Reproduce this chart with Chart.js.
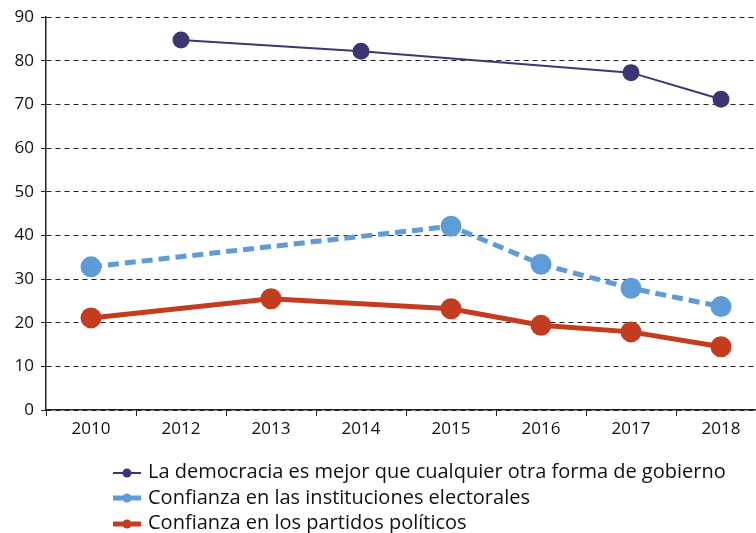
<!DOCTYPE html>
<html>
<head>
<meta charset="utf-8">
<script src="https://cdn.jsdelivr.net/npm/chart.js@4"></script>
<style>
  html, body { margin: 0; padding: 0; background: #fff; overflow: hidden; }
  #wrap { position: relative; width: 756px; height: 533px; overflow: hidden; }
  #box { position: absolute; left: 0; top: 0; width: 779px; height: 447px; }
  #legend { position: absolute; left: 113px; top: 458px; font-family: "Open Sans", sans-serif; font-size: 20px; color: #111; }
  .item { height: 25.5px; line-height: 25.5px; white-space: nowrap; }
  .sym { display: inline-block; vertical-align: middle; width: 28px; height: 12px; margin-right: 7px; }
</style>
</head>
<body>
<div id="wrap">
  <div id="box"><canvas id="chart"></canvas></div>
  <div id="legend"></div>
</div>
<script>
var years = ["2010", "2012", "2013", "2014", "2015", "2016", "2017", "2018"];
var democracia = [null, 84.8, null, 82.2, null, null, 77.3, 71.2];
var electorales = [32.8, null, null, null, 42.1, 33.4, 27.9, 23.7];
var partidos = [21.1, null, 25.5, null, 23.2, 19.4, 17.9, 14.5];
var yTicks = [0, 10, 20, 30, 40, 50, 60, 70, 80, 90];

var purple = "#3c3672";
var blue = "#5f9bd6";
var red = "#c43c1f";

var ctx = document.getElementById("chart").getContext('2d');
var chart = new Chart(ctx, {
  type: 'line',
  data: {
    labels: years,
    datasets: [{
      label: "La democracia es mejor que cualquier otra forma de gobierno",
      data: democracia,
      borderColor: purple,
      backgroundColor: purple,
      borderWidth: 2,
      pointRadius: 7.5,
      pointHoverRadius: 7.5,
      spanGaps: true
    }, {
      label: "Confianza en las instituciones electorales",
      data: electorales,
      borderColor: blue,
      backgroundColor: blue,
      borderWidth: 5,
      borderDash: [11, 6],
      pointRadius: 8,
      pointHoverRadius: 8,
      spanGaps: true
    }, {
      label: "Confianza en los partidos políticos",
      data: partidos,
      borderColor: red,
      backgroundColor: red,
      borderWidth: 5,
      pointRadius: 8,
      pointHoverRadius: 8,
      spanGaps: true
    }]
  },
  options: {
    responsive: true,
    maintainAspectRatio: false,
    animation: false,
    layout: { padding: { top: 16, left: 0, right: 0, bottom: 0 } },
    plugins: {
      legend: { display: false },
      tooltip: { enabled: false }
    },
    scales: {
      x: {
        offset: true,
        grid: { offset: true, drawOnChartArea: false, tickLength: 6, color: '#222', tickColor: '#222' },
        border: { color: '#222', width: 1.5 },
        ticks: { color: '#111', font: { family: "Open Sans", size: 17 }, padding: 3 },
        afterFit: function (scale) { scale.height = 37; }
      },
      y: {
        min: 0,
        max: 90,
        afterBuildTicks: function (scale) {
          scale.ticks = yTicks.map(function (v) { return { value: v }; });
        },
        grid: { color: '#222', lineWidth: 1, tickLength: 5, tickColor: '#222', tickBorderDash: [] },
        border: { color: '#222', width: 1.5, dash: [5, 4] },
        ticks: { color: '#111', font: { family: "Open Sans", size: 17 }, padding: 7 },
        afterFit: function (scale) { scale.width = 46; }
      }
    }
  }
});

var legend = document.getElementById("legend");
chart.data.datasets.forEach(function (ds) {
  var row = document.createElement("div");
  row.className = "item";
  var sym = document.createElement("canvas");
  sym.className = "sym";
  sym.width = 28; sym.height = 12;
  var c = sym.getContext("2d");
  c.strokeStyle = ds.borderColor;
  c.lineWidth = ds.borderWidth;
  c.beginPath(); c.moveTo(0, 6); c.lineTo(28, 6); c.stroke();
  c.fillStyle = ds.backgroundColor;
  c.beginPath(); c.arc(14, 6, 4.5, 0, Math.PI * 2); c.fill();
  row.appendChild(sym);
  row.appendChild(document.createTextNode(ds.label));
  legend.appendChild(row);
});
</script>
</body>
</html>
